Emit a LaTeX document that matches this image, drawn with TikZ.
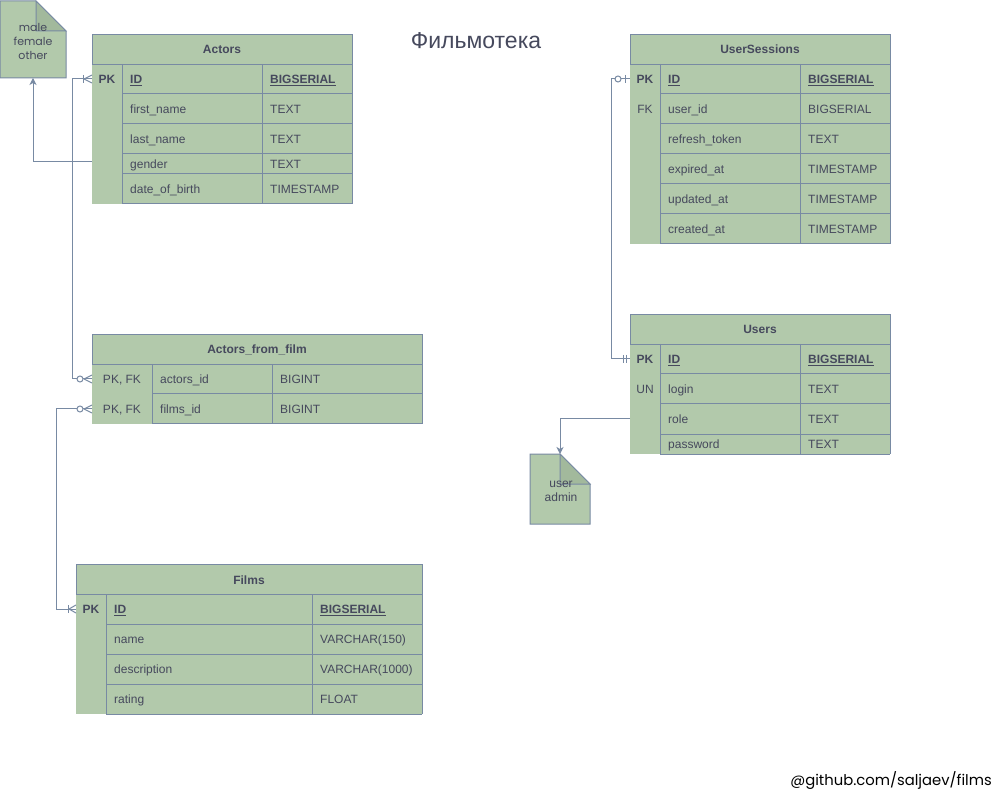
\documentclass[tikz,border=0pt]{standalone}
\usepackage{fontspec}
\setmainfont{Liberation Sans}
\newfontfamily\handfont{Poppins}
\usetikzlibrary{arrows.meta}
\definecolor{sage}{HTML}{B2C9AB}
\definecolor{slate}{HTML}{788AA3}
\definecolor{ink}{HTML}{46495D}
\definecolor{foldgreen}{HTML}{A2B99C}
\newcommand{\pkey}[1]{\underline{\textbf{#1}}}
% ER marks, #1 = point on the table edge, #2 = distance from the edge
\newcommand{\manymark}[2]{\draw[conn] ([xshift=-#2pt]#1) -- ([yshift=4pt]#1) ([xshift=-#2pt]#1) -- ([yshift=-4pt]#1);}
\newcommand{\barmark}[2]{\draw[conn] ([xshift=-#2pt, yshift=4pt]#1) -- ([xshift=-#2pt, yshift=-4pt]#1);}
\newcommand{\ringmark}[2]{\draw[conn, fill=white] ([xshift=-#2pt]#1) circle (3pt);}
\begin{document}
\begin{tikzpicture}[x=1pt, y=-1pt,
  hdr/.style={rectangle, draw=slate, fill=sage, text=ink, inner sep=0, outer sep=0,
    minimum height=30, text height=10.5pt, text depth=1.5pt, font=\bfseries\fontsize{12}{14}\selectfont},
  keycell/.style={inner sep=0, outer sep=0, text=ink, text height=10.5pt, text depth=1.5pt,
    font=\fontsize{12}{14}\selectfont},
  cell/.style={anchor=west, inner sep=0, text=ink, text height=10.5pt, text depth=1.5pt,
    font=\fontsize{12}{14}\selectfont},
  tline/.style={draw=slate, line width=1pt},
  conn/.style={draw=slate, line width=1pt},
  notebox/.style={draw=slate, fill=sage, line width=1pt},
  foldbox/.style={draw=slate, fill=foldgreen, line width=1pt},
  hand/.style={text=ink, align=center, font=\handfont\fontsize{11}{14}\selectfont}]%
  \useasboundingbox (0,0) rectangle (994,794);
  \fill[white] (0,0) rectangle (994,794);

  \node[text=ink, font=\fontsize{23}{26}\selectfont] (title) at (476,41) {Фильмотека};

  % Actors
  \fill[sage] (92,64) rectangle (352,204);
  \node[hdr, minimum width=260] (actors) at (222,49.5) {Actors};
  \foreach \yt/\hh/\kk/\fd/\ty/\nm in {64/30/\textbf{PK}/\pkey{ID}/\pkey{BIGSERIAL}/aid,
      94/30//first\_name/TEXT/afirst, 124/30//last\_name/TEXT/alast,
      154/20//gender/TEXT/agender, 174/30//date\_of\_birth/TIMESTAMP/abirth}{
    \node[keycell, minimum width=30, minimum height=\hh] (\nm-k) at (107,\yt+\hh/2) {\kk};
    \node[cell] (\nm-f) at (130,\yt+\hh/2) {\fd};
    \node[cell] (\nm-t) at (270,\yt+\hh/2) {\ty};
    \draw[tline] (122,\yt+\hh) -- (352,\yt+\hh);
  }
  \draw[tline] (122,64) -- (122,204) (262,64) -- (262,204) (352,64) -- (352,204);

  % Actors_from_film
  \fill[sage] (92,364) rectangle (422,424);
  \node[hdr, minimum width=330] (actfilm) at (257,349.5) {Actors\_from\_film};
  \foreach \yt/\kk/\fd/\ty/\nm in {364/{PK, FK}/actors\_id/BIGINT/afa, 394/{PK, FK}/films\_id/BIGINT/aff}{
    \node[keycell, minimum width=60, minimum height=30] (\nm-k) at (122,\yt+15) {\kk};
    \node[cell] (\nm-f) at (160,\yt+15) {\fd};
    \node[cell] (\nm-t) at (280,\yt+15) {\ty};
    \draw[tline] (152,\yt+30) -- (422,\yt+30);
  }
  \draw[tline] (152,364) -- (152,424) (272,364) -- (272,424) (422,364) -- (422,424);

  % Films
  \fill[sage] (76,594) rectangle (422,714);
  \node[hdr, minimum width=346] (films) at (249,579.5) {Films};
  \foreach \yt/\kk/\fd/\ty/\nm in {594/\textbf{PK}/\pkey{ID}/\pkey{BIGSERIAL}/fid,
      624//name/VARCHAR(150)/fname, 654//description/VARCHAR(1000)/fdesc, 684//rating/FLOAT/frate}{
    \node[keycell, minimum width=30, minimum height=30] (\nm-k) at (91,\yt+15) {\kk};
    \node[cell] (\nm-f) at (114,\yt+15) {\fd};
    \node[cell] (\nm-t) at (320,\yt+15) {\ty};
    \draw[tline] (106,\yt+30) -- (422,\yt+30);
  }
  \draw[tline] (106,594) -- (106,714) (312,594) -- (312,714) (422,594) -- (422,714);

  % UserSessions
  \fill[sage] (630,64) rectangle (890,244);
  \node[hdr, minimum width=260] (sessions) at (760,49.5) {UserSessions};
  \foreach \yt/\kk/\fd/\ty/\nm in {64/\textbf{PK}/\pkey{ID}/\pkey{BIGSERIAL}/usid,
      94/FK/user\_id/BIGSERIAL/suser, 124//refresh\_token/TEXT/stoken,
      154//expired\_at/TIMESTAMP/sexp, 184//updated\_at/TIMESTAMP/supd, 214//created\_at/TIMESTAMP/scre}{
    \node[keycell, minimum width=30, minimum height=30] (\nm-k) at (645,\yt+15) {\kk};
    \node[cell] (\nm-f) at (668,\yt+15) {\fd};
    \node[cell] (\nm-t) at (808,\yt+15) {\ty};
    \draw[tline] (660,\yt+30) -- (890,\yt+30);
  }
  \draw[tline] (660,64) -- (660,244) (800,64) -- (800,244) (890,64) -- (890,244);

  % Users
  \fill[sage] (630,344) rectangle (890,454);
  \node[hdr, minimum width=260] (users) at (760,329.5) {Users};
  \foreach \yt/\hh/\kk/\fd/\ty/\nm in {344/30/\textbf{PK}/\pkey{ID}/\pkey{BIGSERIAL}/uid,
      374/30/UN/login/TEXT/ulogin, 404/30//role/TEXT/urole, 434/20//password/TEXT/upass}{
    \node[keycell, minimum width=30, minimum height=\hh] (\nm-k) at (645,\yt+\hh/2) {\kk};
    \node[cell] (\nm-f) at (668,\yt+\hh/2) {\fd};
    \node[cell] (\nm-t) at (808,\yt+\hh/2) {\ty};
    \draw[tline] (660,\yt+\hh) -- (890,\yt+\hh);
  }
  \draw[tline] (660,344) -- (660,454) (800,344) -- (800,454) (890,344) -- (890,454);

  % notes
  \filldraw[notebox] (0,1) -- (36,1) -- (66,31) -- (66,78) -- (0,78) -- cycle;
  \filldraw[foldbox] (36,1) -- (66,31) -- (36,31) -- cycle;
  \node[hand] (genders) at (33,41) {male\\female\\other};
  \coordinate (genders-s) at (33,78);

  \filldraw[notebox] (530,454) -- (560,454) -- (590,484) -- (590,524) -- (530,524) -- cycle;
  \filldraw[foldbox] (560,454) -- (590,484) -- (560,484) -- cycle;
  \node[text=ink, align=center, font=\fontsize{12}{14}\selectfont] (roles) at (561,491) {user\\admin};
  \coordinate (roles-n) at (560,454);

  % connectors
  \draw[conn] (aid-k.west) -- ++(-19.5,0) |- (afa-k.west);
  \manymark{aid-k.west}{8} \barmark{aid-k.west}{9}
  \manymark{afa-k.west}{8} \ringmark{afa-k.west}{12}
  \draw[conn] (aff-k.west) -- ++(-36,0) |- (fid-k.west);
  \manymark{aff-k.west}{8} \ringmark{aff-k.west}{12}
  \manymark{fid-k.west}{7} \barmark{fid-k.west}{8}
  \draw[conn] (usid-k.west) -- ++(-19,0) |- (uid-k.west);
  \ringmark{usid-k.west}{12} \barmark{usid-k.west}{5}
  \barmark{uid-k.west}{4} \barmark{uid-k.west}{7}
  \draw[conn, -{Stealth[length=7pt, width=7pt, inset=2pt]}] ([yshift=2pt]agender-k.west) -| (genders-s);
  \draw[conn, -{Stealth[length=7pt, width=7pt, inset=2pt]}] (urole-k.west) -| (roles-n);

  \node[anchor=east, inner sep=0, font=\handfont\fontsize{14.8}{16}\selectfont] (repo) at (992,781) {@github.com/saljaev/films};
\end{tikzpicture}
\end{document}
